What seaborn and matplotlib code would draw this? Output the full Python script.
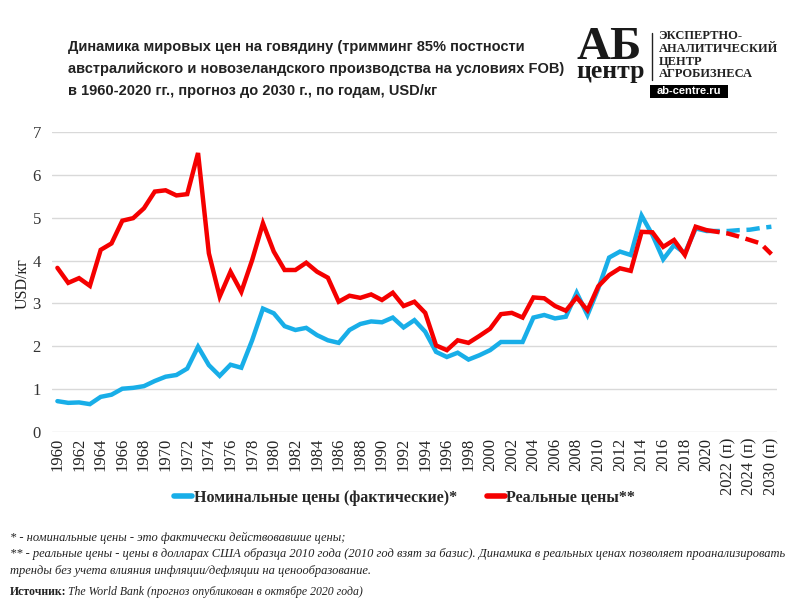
import numpy as np
import pandas as pd
import matplotlib
matplotlib.use("Agg")
import matplotlib.pyplot as plt
import seaborn as sns
from matplotlib.lines import Line2D
from matplotlib.patches import Rectangle

# ---------------- data ----------------
years = [str(y) for y in range(1960, 2021)]
forecast_labels = ["2021 (п)", "2022 (п)", "2023 (п)", "2024 (п)", "2025 (п)", "2030 (п)"]
categories = years + forecast_labels

nominal = [0.72, 0.68, 0.69, 0.65, 0.82, 0.87, 1.01, 1.03, 1.07, 1.19,
           1.29, 1.33, 1.48, 1.99, 1.56, 1.31, 1.57, 1.50, 2.14, 2.88,
           2.77, 2.47, 2.38, 2.43, 2.26, 2.14, 2.08, 2.38, 2.52, 2.58,
           2.56, 2.67, 2.44, 2.61, 2.34, 1.87, 1.75, 1.85, 1.69, 1.79,
           1.91, 2.10, 2.10, 2.10, 2.67, 2.73, 2.65, 2.69, 3.25, 2.73,
           3.35, 4.07, 4.21, 4.13, 5.05, 4.60, 4.03, 4.36, 4.17, 4.75,
           4.69]
real = [3.83, 3.48, 3.59, 3.41, 4.25, 4.40, 4.93, 4.99, 5.22, 5.61,
        5.64, 5.52, 5.55, 6.51, 4.17, 3.16, 3.74, 3.27, 4.01, 4.87,
        4.21, 3.78, 3.78, 3.95, 3.74, 3.60, 3.04, 3.18, 3.13, 3.21,
        3.08, 3.25, 2.94, 3.04, 2.78, 2.02, 1.91, 2.14, 2.08, 2.24,
        2.41, 2.75, 2.78, 2.67, 3.14, 3.12, 2.94, 2.83, 3.14, 2.84,
        3.40, 3.66, 3.82, 3.76, 4.67, 4.66, 4.32, 4.48, 4.13, 4.79,
        4.71]
nominal_forecast = [4.69, 4.69, 4.71, 4.72, 4.76, 4.79]
real_forecast = [4.67, 4.63, 4.56, 4.48, 4.40, 4.15]

series_names = ["Номинальные цены (фактические)*", "Реальные цены**"]
colors = {"nominal": "#18AEE8", "real": "#F50000"}
logo_lines = ["ЭКСПЕРТНО-", "АНАЛИТИЧЕСКИЙ", "ЦЕНТР", "АГРОБИЗНЕСА"]

# ---------------- frames ----------------
n_act = len(years)
df_act = pd.DataFrame({
    "pos": list(range(n_act)) * 2,
    "value": nominal + real,
    "series": ["nominal"] * n_act + ["real"] * n_act,
})
fpos = list(range(n_act - 1, len(categories)))
df_fc = pd.DataFrame({
    "pos": fpos * 2,
    "value": [nominal[-1]] + nominal_forecast + [real[-1]] + real_forecast,
    "series": ["nominal"] * len(fpos) + ["real"] * len(fpos),
})

# ---------------- figure ----------------
sns.set_theme(style="white")
plt.rcParams["font.family"] = ["Liberation Serif", "DejaVu Serif"]

fig = plt.figure(figsize=(8, 6), dpi=100)
fig.patch.set_facecolor("white")
ax = fig.add_axes([0.065, 0.28, 0.906, 0.50])

for s in ["nominal", "real"]:
    sns.lineplot(data=df_act[df_act.series == s], x="pos", y="value", ax=ax,
                 color=colors[s], linewidth=3.2, legend=False,
                 solid_joinstyle="miter")
    sns.lineplot(data=df_fc[df_fc.series == s], x="pos", y="value", ax=ax,
                 color=colors[s], linewidth=3.2, legend=False,
                 linestyle=(0, (3.0, 1.5)))

ax.set_xlim(-0.5, len(categories) - 0.5)
ax.set_ylim(0, 7)
ax.set_yticks(range(0, 8))
ax.set_yticklabels([str(i) for i in range(0, 8)], fontsize=12, color="#333333")
tick_pos = list(range(0, len(categories), 2))
ax.set_xticks(tick_pos)
ax.set_xticklabels([categories[i] for i in tick_pos], rotation=90,
                   fontsize=12, color="#222222")
ax.tick_params(axis="y", length=0, pad=8)
ax.tick_params(axis="x", length=0, pad=4)
ax.grid(axis="y", color="#D9D9D9", linewidth=1)
ax.grid(axis="x", visible=False)
for sp in ax.spines.values():
    sp.set_visible(False)
ax.set_xlabel("")
ax.set_ylabel("")
fig.text(0.029, 0.528, "USD/кг", rotation=90, ha="center", va="center",
         fontsize=11.5, color="#222222")

# legend
handles = [Line2D([], [], color=colors["nominal"], lw=4),
           Line2D([], [], color=colors["real"], lw=4)]
fig.legend(handles, series_names, loc="center", bbox_to_anchor=(0.506, 0.170),
           ncol=2, frameon=False, handlelength=1.1, handletextpad=0.1,
           columnspacing=1.9,
           prop={"family": ["Liberation Serif"], "weight": "bold", "size": 11.5})

# title
title = ("Динамика мировых цен на говядину (тримминг 85% постности\n"
         "австралийского и новозеландского производства на условиях FOB)\n"
         "в 1960-2020 гг., прогноз до 2030 г., по годам, USD/кг")
fig.text(0.085, 0.933, title, ha="left", va="top", fontsize=10.5,
         fontweight="bold", color="#222222", linespacing=1.72,
         family=["Liberation Sans", "DejaVu Sans"])

# logo
fig.text(0.721, 0.902, "АБ", ha="left", va="baseline", fontsize=34,
         fontweight="bold", family=["Liberation Serif"], color="#1a1a1a")
fig.text(0.721, 0.870, "центр", ha="left", va="baseline", fontsize=18.5,
         fontweight="bold", family=["Liberation Serif"], color="#1a1a1a")
fig.add_artist(Line2D([0.815, 0.815], [0.866, 0.945], color="#222222", lw=1))
for i, line in enumerate(logo_lines):
    fig.text(0.823, 0.935 - i * 0.0213, line, ha="left", va="baseline",
             fontsize=9, fontweight="bold", family=["Liberation Serif"],
             color="#222222")
fig.add_artist(Rectangle((0.813, 0.837), 0.097, 0.022, transform=fig.transFigure,
                         facecolor="black", edgecolor="none"))
fig.text(0.8615, 0.848, "ab-centre.ru", ha="center", va="center", fontsize=8,
         fontweight="bold", color="white",
         family=["Liberation Sans", "DejaVu Sans"])

# footnotes
foot_kw = dict(ha="left", va="center", fontsize=9.0, style="italic",
               family=["Liberation Serif"], color="#222222")
fig.text(0.012, 0.103, "* - номинальные цены - это фактически действовавшие цены;", **foot_kw)
fig.text(0.012, 0.077, "** - реальные цены - цены в долларах США образца 2010 года (2010 год взят за базис). "
         "Динамика в реальных ценах позволяет проанализировать", **foot_kw)
fig.text(0.012, 0.049, "тренды без учета влияния инфляции/дефляции на ценообразование.", **foot_kw)
fig.text(0.012, 0.014, "Источник:", ha="left", va="center", fontsize=8.5,
         fontweight="bold", family=["Liberation Serif"], color="#222222")
fig.text(0.085, 0.014, "The World Bank (прогноз опубликован в октябре 2020 года)",
         ha="left", va="center", fontsize=8.5, style="italic",
         family=["Liberation Serif"], color="#222222")

fig.savefig("out.png", dpi=100, facecolor="white")
